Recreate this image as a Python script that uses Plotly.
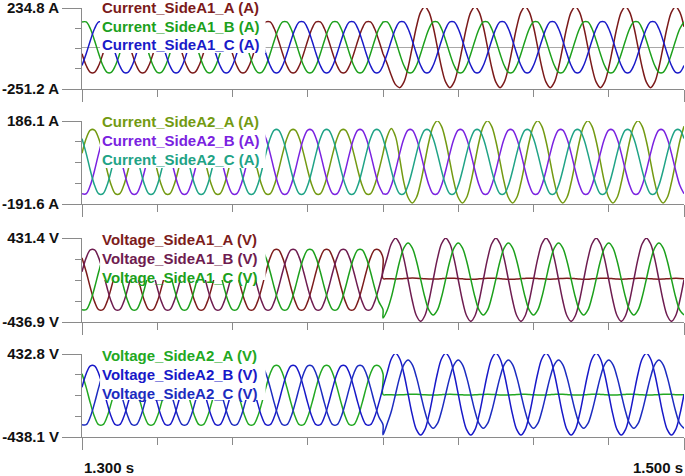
import numpy as np
import plotly.graph_objects as go
from plotly.subplots import make_subplots

# sample clock of the record (60 Hz, 12 samples per cycle), fault at 1.400 s
time_pre = np.linspace(1.3, 1.4, 73)
time_post = np.linspace(1.4, 1.5, 73)

# ---------------- Current_SideA1 (A) ----------------
ia1_a_pre = [
    -40, -110, -151, -151, -110, -40, 40, 110, 151, 151, 110, 40,
    -40, -110, -151, -151, -110, -40, 40, 110, 151, 151, 110, 40,
    -40, -110, -151, -151, -110, -40, 40, 110, 151, 151, 110, 40,
    -40, -110, -151, -151, -110, -40, 40, 110, 151, 151, 110, 40,
    -40, -110, -151, -151, -110, -40, 40, 110, 151, 151, 110, 40,
    -40, -110, -151, -151, -110, -40, 40, 110, 151, 151, 110, 40,
    -40,
]
ia1_a_post = [
    -40, -100, -170, -225, -243, -210, -122, 0, 122, 210, 243, 210,
    122, 0, -122, -210, -243, -210, -122, 0, 122, 210, 243, 210,
    122, 0, -122, -210, -243, -210, -122, 0, 122, 210, 243, 210,
    122, 0, -122, -210, -243, -210, -122, 0, 122, 210, 243, 210,
    122, 0, -122, -210, -243, -210, -122, 0, 122, 210, 243, 210,
    122, 0, -122, -210, -243, -210, -122, 0, 122, 210, 243, 210,
    122,
]
ia1_b_pre = [
    151, 151, 110, 40, -40, -110, -151, -151, -110, -40, 40, 110,
    151, 151, 110, 40, -40, -110, -151, -151, -110, -40, 40, 110,
    151, 151, 110, 40, -40, -110, -151, -151, -110, -40, 40, 110,
    151, 151, 110, 40, -40, -110, -151, -151, -110, -40, 40, 110,
    151, 151, 110, 40, -40, -110, -151, -151, -110, -40, 40, 110,
    151, 151, 110, 40, -40, -110, -151, -151, -110, -40, 40, 110,
    151,
]
ia1_b_post = [
    151, 151, 110, 40, -40, -110, -151, -151, -110, -40, 40, 110,
    151, 151, 110, 40, -40, -110, -151, -151, -110, -40, 40, 110,
    151, 151, 110, 40, -40, -110, -151, -151, -110, -40, 40, 110,
    151, 151, 110, 40, -40, -110, -151, -151, -110, -40, 40, 110,
    151, 151, 110, 40, -40, -110, -151, -151, -110, -40, 40, 110,
    151, 151, 110, 40, -40, -110, -151, -151, -110, -40, 40, 110,
    151,
]
ia1_c_pre = [
    -110, -40, 40, 110, 151, 151, 110, 40, -40, -110, -151, -151,
    -110, -40, 40, 110, 151, 151, 110, 40, -40, -110, -151, -151,
    -110, -40, 40, 110, 151, 151, 110, 40, -40, -110, -151, -151,
    -110, -40, 40, 110, 151, 151, 110, 40, -40, -110, -151, -151,
    -110, -40, 40, 110, 151, 151, 110, 40, -40, -110, -151, -151,
    -110, -40, 40, 110, 151, 151, 110, 40, -40, -110, -151, -151,
    -110,
]
ia1_c_post = [
    -110, -40, 40, 110, 151, 151, 110, 40, -40, -110, -151, -151,
    -110, -40, 40, 110, 151, 151, 110, 40, -40, -110, -151, -151,
    -110, -40, 40, 110, 151, 151, 110, 40, -40, -110, -151, -151,
    -110, -40, 40, 110, 151, 151, 110, 40, -40, -110, -151, -151,
    -110, -40, 40, 110, 151, 151, 110, 40, -40, -110, -151, -151,
    -110, -40, 40, 110, 151, 151, 110, 40, -40, -110, -151, -151,
    -110,
]

# ---------------- Current_SideA2 (A) ----------------
ia2_a_pre = [
    39, 106, 145, 145, 106, 39, -39, -106, -145, -145, -106, -39,
    39, 106, 145, 145, 106, 39, -39, -106, -145, -145, -106, -39,
    39, 106, 145, 145, 106, 39, -39, -106, -145, -145, -106, -39,
    39, 106, 145, 145, 106, 39, -39, -106, -145, -145, -106, -39,
    39, 106, 145, 145, 106, 39, -39, -106, -145, -145, -106, -39,
    39, 106, 145, 145, 106, 39, -39, -106, -145, -145, -106, -39,
    39,
]
ia2_a_post = [
    39, 115, 152, 115, 15, -94, -162, -187, -162, -94, 0, 94,
    162, 187, 162, 94, 0, -94, -162, -187, -162, -94, 0, 94,
    162, 187, 162, 94, 0, -94, -162, -187, -162, -94, 0, 94,
    162, 187, 162, 94, 0, -94, -162, -187, -162, -94, 0, 94,
    162, 187, 162, 94, 0, -94, -162, -187, -162, -94, 0, 94,
    162, 187, 162, 94, 0, -94, -162, -187, -162, -94, 0, 94,
    162,
]
ia2_b_pre = [
    -145, -145, -106, -39, 39, 106, 145, 145, 106, 39, -39, -106,
    -145, -145, -106, -39, 39, 106, 145, 145, 106, 39, -39, -106,
    -145, -145, -106, -39, 39, 106, 145, 145, 106, 39, -39, -106,
    -145, -145, -106, -39, 39, 106, 145, 145, 106, 39, -39, -106,
    -145, -145, -106, -39, 39, 106, 145, 145, 106, 39, -39, -106,
    -145, -145, -106, -39, 39, 106, 145, 145, 106, 39, -39, -106,
    -145,
]
ia2_b_post = [
    -145, -145, -106, -39, 39, 106, 145, 145, 106, 39, -39, -106,
    -145, -145, -106, -39, 39, 106, 145, 145, 106, 39, -39, -106,
    -145, -145, -106, -39, 39, 106, 145, 145, 106, 39, -39, -106,
    -145, -145, -106, -39, 39, 106, 145, 145, 106, 39, -39, -106,
    -145, -145, -106, -39, 39, 106, 145, 145, 106, 39, -39, -106,
    -145, -145, -106, -39, 39, 106, 145, 145, 106, 39, -39, -106,
    -145,
]
ia2_c_pre = [
    106, 39, -39, -106, -145, -145, -106, -39, 39, 106, 145, 145,
    106, 39, -39, -106, -145, -145, -106, -39, 39, 106, 145, 145,
    106, 39, -39, -106, -145, -145, -106, -39, 39, 106, 145, 145,
    106, 39, -39, -106, -145, -145, -106, -39, 39, 106, 145, 145,
    106, 39, -39, -106, -145, -145, -106, -39, 39, 106, 145, 145,
    106, 39, -39, -106, -145, -145, -106, -39, 39, 106, 145, 145,
    106,
]
ia2_c_post = [
    106, 39, -39, -106, -145, -145, -106, -39, 39, 106, 145, 145,
    106, 39, -39, -106, -145, -145, -106, -39, 39, 106, 145, 145,
    106, 39, -39, -106, -145, -145, -106, -39, 39, 106, 145, 145,
    106, 39, -39, -106, -145, -145, -106, -39, 39, 106, 145, 145,
    106, 39, -39, -106, -145, -145, -106, -39, 39, 106, 145, 145,
    106, 39, -39, -106, -145, -145, -106, -39, 39, 106, 145, 145,
    106,
]

# ---------------- Voltage_SideA1 (V) ----------------
va1_a_pre = [
    226, 83, -83, -226, -309, -309, -226, -83, 83, 226, 309, 309,
    226, 83, -83, -226, -309, -309, -226, -83, 83, 226, 309, 309,
    226, 83, -83, -226, -309, -309, -226, -83, 83, 226, 309, 309,
    226, 83, -83, -226, -309, -309, -226, -83, 83, 226, 309, 309,
    226, 83, -83, -226, -309, -309, -226, -83, 83, 226, 309, 309,
    226, 83, -83, -226, -309, -309, -226, -83, 83, 226, 309, 309,
    226,
]
va1_a_post = [
    12, 11, 9, 8, 9, 12, 15, 17, 16, 13, 10, 8,
    7, 8, 11, 14, 16, 15, 12, 9, 6, 5, 6, 9,
    12, 15, 16, 14, 11, 8, 6, 6, 8, 11, 14, 16,
    15, 12, 9, 7, 6, 8, 11, 14, 15, 14, 11, 8,
    6, 6, 9, 12, 15, 16, 14, 11, 8, 6, 7, 10,
    13, 16, 16, 13, 10, 7, 6, 7, 10, 13, 15, 14,
    11,
]
va1_b_pre = [
    83, 226, 309, 309, 226, 83, -83, -226, -309, -309, -226, -83,
    83, 226, 309, 309, 226, 83, -83, -226, -309, -309, -226, -83,
    83, 226, 309, 309, 226, 83, -83, -226, -309, -309, -226, -83,
    83, 226, 309, 309, 226, 83, -83, -226, -309, -309, -226, -83,
    83, 226, 309, 309, 226, 83, -83, -226, -309, -309, -226, -83,
    83, 226, 309, 309, 226, 83, -83, -226, -309, -309, -226, -83,
    83,
]
va1_b_post = [
    83, 230, 372, 430, 372, 215, 0, -215, -372, -430, -372, -215,
    0, 215, 372, 430, 372, 215, 0, -215, -372, -430, -372, -215,
    0, 215, 372, 430, 372, 215, 0, -215, -372, -430, -372, -215,
    0, 215, 372, 430, 372, 215, 0, -215, -372, -430, -372, -215,
    0, 215, 372, 430, 372, 215, 0, -215, -372, -430, -372, -215,
    0, 215, 372, 430, 372, 215, 0, -215, -372, -430, -372, -215,
    0,
]
va1_c_pre = [
    -309, -309, -226, -83, 83, 226, 309, 309, 226, 83, -83, -226,
    -309, -309, -226, -83, 83, 226, 309, 309, 226, 83, -83, -226,
    -309, -309, -226, -83, 83, 226, 309, 309, 226, 83, -83, -226,
    -309, -309, -226, -83, 83, 226, 309, 309, 226, 83, -83, -226,
    -309, -309, -226, -83, 83, 226, 309, 309, 226, 83, -83, -226,
    -309, -309, -226, -83, 83, 226, 309, 309, 226, 83, -83, -226,
    -309,
]
va1_c_post = [
    -395, -315, -179, 7, 193, 329, 379, 329, 193, 7, -179, -315,
    -365, -315, -179, 7, 193, 329, 379, 329, 193, 7, -179, -315,
    -365, -315, -179, 7, 193, 329, 379, 329, 193, 7, -179, -315,
    -365, -315, -179, 7, 193, 329, 379, 329, 193, 7, -179, -315,
    -365, -315, -179, 7, 193, 329, 379, 329, 193, 7, -179, -315,
    -365, -315, -179, 7, 193, 329, 379, 329, 193, 7, -179, -315,
    -365,
]

# ---------------- Voltage_SideA2 (V) ----------------
va2_a_pre = [
    226, 83, -83, -226, -309, -309, -226, -83, 83, 226, 309, 309,
    226, 83, -83, -226, -309, -309, -226, -83, 83, 226, 309, 309,
    226, 83, -83, -226, -309, -309, -226, -83, 83, 226, 309, 309,
    226, 83, -83, -226, -309, -309, -226, -83, 83, 226, 309, 309,
    226, 83, -83, -226, -309, -309, -226, -83, 83, 226, 309, 309,
    226, 83, -83, -226, -309, -309, -226, -83, 83, 226, 309, 309,
    226,
]
va2_a_post = [
    8, 6, 4, 3, 4, 6, 9, 11, 10, 8, 5, 3,
    2, 3, 6, 9, 10, 9, 6, 4, 2, 2, 4, 7,
    9, 10, 9, 6, 3, 2, 3, 5, 8, 10, 10, 8,
    5, 3, 2, 3, 6, 9, 11, 10, 7, 4, 2, 2,
    4, 7, 10, 11, 9, 6, 3, 2, 3, 6, 9, 11,
    10, 7, 4, 2, 2, 4, 7, 10, 11, 9, 6, 4,
    5,
]
va2_b_pre = [
    83, 226, 309, 309, 226, 83, -83, -226, -309, -309, -226, -83,
    83, 226, 309, 309, 226, 83, -83, -226, -309, -309, -226, -83,
    83, 226, 309, 309, 226, 83, -83, -226, -309, -309, -226, -83,
    83, 226, 309, 309, 226, 83, -83, -226, -309, -309, -226, -83,
    83, 226, 309, 309, 226, 83, -83, -226, -309, -309, -226, -83,
    83, 226, 309, 309, 226, 83, -83, -226, -309, -309, -226, -83,
    83,
]
va2_b_post = [
    83, 235, 383, 440, 383, 226, 11, -204, -361, -418, -361, -204,
    11, 226, 383, 440, 383, 226, 11, -204, -361, -418, -361, -204,
    11, 226, 383, 440, 383, 226, 11, -204, -361, -418, -361, -204,
    11, 226, 383, 440, 383, 226, 11, -204, -361, -418, -361, -204,
    11, 226, 383, 440, 383, 226, 11, -204, -361, -418, -361, -204,
    11, 226, 383, 440, 383, 226, 11, -204, -361, -418, -361, -204,
    11,
]
va2_c_pre = [
    -309, -309, -226, -83, 83, 226, 309, 309, 226, 83, -83, -226,
    -309, -309, -226, -83, 83, 226, 309, 309, 226, 83, -83, -226,
    -309, -309, -226, -83, 83, 226, 309, 309, 226, 83, -83, -226,
    -309, -309, -226, -83, 83, 226, 309, 309, 226, 83, -83, -226,
    -309, -309, -226, -83, 83, 226, 309, 309, 226, 83, -83, -226,
    -309, -309, -226, -83, 83, 226, 309, 309, 226, 83, -83, -226,
    -309,
]
va2_c_post = [
    -415, -299, -168, 11, 190, 321, 369, 321, 190, 11, -168, -299,
    -347, -299, -168, 11, 190, 321, 369, 321, 190, 11, -168, -299,
    -347, -299, -168, 11, 190, 321, 369, 321, 190, 11, -168, -299,
    -347, -299, -168, 11, 190, 321, 369, 321, 190, 11, -168, -299,
    -347, -299, -168, 11, 190, 321, 369, 321, 190, 11, -168, -299,
    -347, -299, -168, 11, 190, 321, 369, 321, 190, 11, -168, -299,
    -347,
]

# axis extents and labels, as printed on the chart
y_ranges = [(-251.2, 234.8), (-191.6, 186.1), (-436.9, 431.4), (-438.1, 432.8)]
y_units = ["A", "A", "V", "V"]
time_labels = ["1.300 s", "1.500 s"]

series_names = [
    ["Current_SideA1_A (A)", "Current_SideA1_B (A)", "Current_SideA1_C (A)"],
    ["Current_SideA2_A (A)", "Current_SideA2_B (A)", "Current_SideA2_C (A)"],
    ["Voltage_SideA1_A (V)", "Voltage_SideA1_B (V)", "Voltage_SideA1_C (V)"],
    ["Voltage_SideA2_A (V)", "Voltage_SideA2_B (V)", "Voltage_SideA2_C (V)"],
]
series_data = [
    [(ia1_a_pre, ia1_a_post), (ia1_b_pre, ia1_b_post), (ia1_c_pre, ia1_c_post)],
    [(ia2_a_pre, ia2_a_post), (ia2_b_pre, ia2_b_post), (ia2_c_pre, ia2_c_post)],
    [(va1_a_pre, va1_a_post), (va1_b_pre, va1_b_post), (va1_c_pre, va1_c_post)],
    [(va2_a_pre, va2_a_post), (va2_b_pre, va2_b_post), (va2_c_pre, va2_c_post)],
]
series_colors = [
    ["#7b1a1a", "#1ca01c", "#1a1ac8"],
    ["#739a12", "#7a22e0", "#1fa386"],
    ["#7c1c1c", "#6e1c50", "#1ca01c"],
    ["#22a822", "#1818c8", "#1c2cc0"],
]

W, H = 685, 476
PLOT_LEFT, PLOT_RIGHT = 82, 684
panel_px = [(8, 89), (121, 204), (238, 322), (354, 437)]
legend_bottom = [0.444, 0.434, 0.5, 0.446]
legend_offsets = [(-0.3, 18.0, 36.3), (0.3, 19.3, 38.3), (1.0, 20.3, 39.3), (1.0, 20.3, 39.3)]

AXIS_GRAY = "#8a8a8a"
FONT = "Liberation Sans, Arial, sans-serif"

fig = make_subplots(rows=4, cols=1)
time_axis = np.concatenate([time_pre, time_post])

for row in range(4):
    for name, (pre, post), color in zip(series_names[row], series_data[row], series_colors[row]):
        fig.add_trace(
            go.Scatter(
                x=time_axis,
                y=list(pre) + list(post),
                mode="lines",
                name=name,
                line=dict(color=color, width=1.5, shape="spline", smoothing=1),
                hoverinfo="skip",
            ),
            row=row + 1,
            col=1,
        )

    y_lo, y_hi = y_ranges[row]
    top_px, bottom_px = panel_px[row]
    fig.update_yaxes(
        domain=[1 - bottom_px / H, 1 - top_px / H],
        range=[y_lo, y_hi],
        automargin=False,
        showline=True,
        linecolor=AXIS_GRAY,
        linewidth=1,
        showgrid=False,
        zeroline=(row == 0),
        zerolinecolor="#a8a8a8",
        zerolinewidth=1,
        tickmode="array",
        tickvals=[y_lo, y_hi],
        ticktext=[f"{y_lo:.1f} {y_units[row]}", f"{y_hi:.1f} {y_units[row]}"],
        ticklabeloverflow="allow",
        ticks="outside",
        ticklen=19,
        tickcolor=AXIS_GRAY,
        tickfont=dict(family=FONT, size=15, color="#111111", weight="bold"),
        minor=dict(
            tickmode="linear",
            tick0=y_lo,
            dtick=(y_hi - y_lo) / 4,
            ticks="outside",
            ticklen=6,
            tickcolor=AXIS_GRAY,
        ),
        fixedrange=True,
        row=row + 1,
        col=1,
    )
    fig.update_xaxes(
        domain=[PLOT_LEFT / W, PLOT_RIGHT / W],
        range=[1.3, 1.5],
        automargin=False,
        showline=True,
        linecolor=AXIS_GRAY,
        linewidth=1,
        showgrid=False,
        zeroline=False,
        tickmode="array",
        tickvals=[1.3, 1.5],
        showticklabels=False,
        ticks="outside",
        ticklen=12,
        tickcolor=AXIS_GRAY,
        minor=dict(
            tickmode="linear",
            tick0=1.3,
            dtick=0.025,
            ticks="outside",
            ticklen=7,
            tickcolor=AXIS_GRAY,
        ),
        fixedrange=True,
        row=row + 1,
        col=1,
    )

    # white box behind the in-plot legend text
    xref = "x domain" if row == 0 else f"x{row + 1} domain"
    yref = "y domain" if row == 0 else f"y{row + 1} domain"
    fig.add_shape(
        type="rect",
        xref=xref,
        yref=yref,
        x0=0.03,
        x1=0.305,
        y0=legend_bottom[row],
        y1=1.0,
        fillcolor="white",
        line=dict(width=0),
        layer="above",
    )
    for name, color, offset in zip(series_names[row], series_colors[row], legend_offsets[row]):
        fig.add_annotation(
            text=name,
            xref=xref,
            yref=yref,
            x=0.03,
            y=1.0,
            xanchor="left",
            yanchor="middle",
            yshift=-offset,
            showarrow=False,
            font=dict(family=FONT, size=15, color=color, weight="bold"),
        )

fig.add_annotation(
    text=time_labels[0], xref="paper", yref="paper", x=PLOT_LEFT / W, y=1 - 467 / H,
    xanchor="left", yanchor="middle", showarrow=False,
    font=dict(family=FONT, size=15, color="#111111", weight="bold"),
)
fig.add_annotation(
    text=time_labels[1], xref="paper", yref="paper", x=1.0, y=1 - 467 / H,
    xanchor="right", yanchor="middle", showarrow=False,
    font=dict(family=FONT, size=15, color="#111111", weight="bold"),
)

fig.update_layout(
    width=W,
    height=H,
    margin=dict(l=0, r=0, t=0, b=0, autoexpand=False),
    paper_bgcolor="white",
    plot_bgcolor="white",
    showlegend=False,
)

fig.write_html(
    "out.html",
    config={"displayModeBar": False},
    post_script="document.body.style.margin='0';",
)
